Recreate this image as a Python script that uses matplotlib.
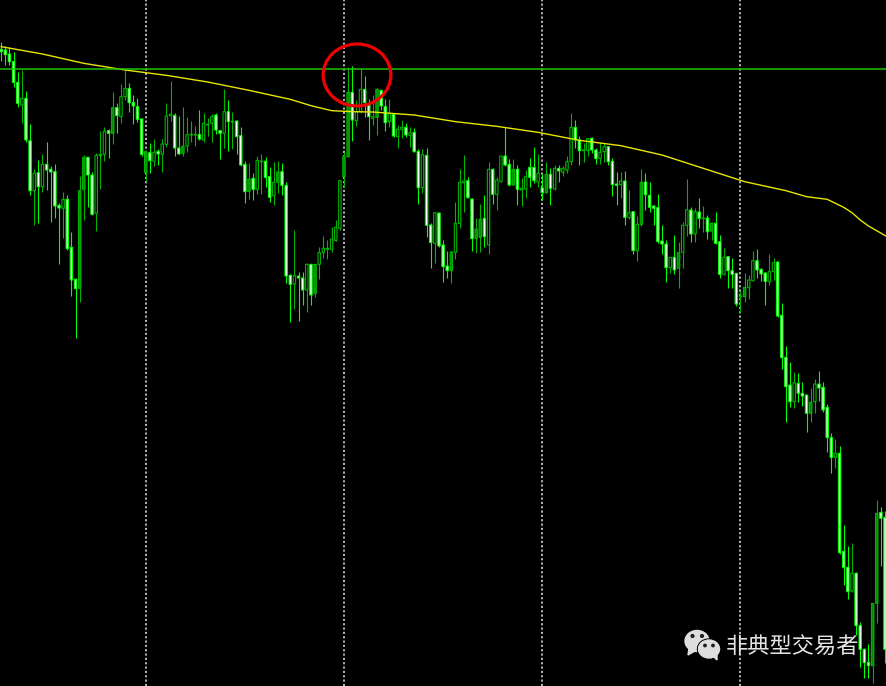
import numpy as np
import matplotlib
matplotlib.use('Agg')
import matplotlib.pyplot as plt
from matplotlib.patches import Ellipse, Polygon

# values, scale runs downward (no price axis in the picture)
highs = [125,137,142,157,217,210,273,372,508,480,462,427,498,493,610,577,585,697,835,527,
         465,470,515,460,394,380,388,276,310,252,210,248,285,295,355,452,430,418,448,418,
         310,242,340,348,322,352,363,378,331,340,354,342,338,390,267,300,335,360,382,482,
         490,518,468,462,470,502,486,483,490,547,822,690,815,
         815,790,792,793,740,707,720,680,660,540,455,202,198,300,205,227,298,285,265,270,
         297,297,340,375,360,368,380,385,448,448,445,670,638,638,720,753,753,607,507,465,
         530,595,655,612,585,485,505,530,468,380,478,478,495,535,510,475,440,462,522,487,
         505,495,495,
         497,468,338,360,408,430,413,412,445,425,428,438,475,515,517,513,570,633,648,508,
         520,545,615,582,675,720,770,705,725,665,536,620,625,595,617,645,667,635,705,745,
         768,775,818,872,820,825,753,747,805,817,762,775,785,910,1038,1087,1115,1120,1145,1185,
         1165,1138,1113,1145,
         1212,1300,1318,1338,1575,1638,1628,1715,1867,1945,1932,1808,1500,1520,1533]

tops = [148,150,162,185,247,295,295,422,520,518,493,493,508,515,616,598,598,742,838,572,
        472,472,525,466,463,394,392,323,323,290,265,265,308,320,357,455,458,457,454,432,
        348,342,346,444,439,404,403,403,404,370,373,350,345,392,335,335,364,363,407,493,
        538,535,481,483,484,530,547,516,515,556,826,827,828,
        834,793,793,793,758,745,745,717,682,542,470,277,277,335,268,268,312,350,268,271,
        320,340,343,388,382,382,398,397,454,464,466,675,638,639,735,798,756,670,547,543,
        542,597,687,658,655,508,508,540,468,468,493,508,508,565,530,502,502,520,564,523,
        523,505,505,
        505,485,382,382,420,450,416,415,450,457,440,440,484,552,543,543,638,635,673,547,
        546,586,618,623,723,732,772,772,758,676,629,630,635,636,654,654,670,670,725,772,
        770,812,820,888,862,840,782,782,808,819,815,788,786,946,1072,1155,1148,1150,1180,1185,
        1207,1152,1152,1162,
        1222,1313,1360,1360,1654,1702,1720,1720,1876,1948,1987,1810,1540,1537,1552]

bottoms = [155,164,185,247,310,315,420,572,572,560,560,510,516,618,624,625,746,840,866,865,
           568,525,643,640,467,463,400,400,347,350,290,308,318,358,463,518,482,484,462,463,
           433,347,444,462,460,438,405,405,417,420,375,370,390,400,400,365,366,410,495,575,
           574,568,568,485,532,592,587,547,556,828,853,852,834,
           870,870,885,880,793,757,748,748,722,685,530,470,360,362,335,308,350,355,352,318,
           368,365,408,410,388,405,406,455,563,563,676,728,730,738,800,812,812,757,670,548,
           593,716,716,712,710,735,583,583,545,495,555,555,568,570,567,532,542,546,578,578,
           565,567,513,
           517,510,485,420,452,452,452,450,476,476,455,485,554,556,554,652,653,752,752,673,
           584,622,625,725,732,803,803,810,805,757,676,702,702,655,656,695,693,730,823,823,
           812,823,912,890,890,863,842,810,822,844,845,815,948,1073,1160,1205,1205,1180,1188,1240,
           1240,1205,1164,1230,
           1313,1372,1372,1658,1703,1775,1773,1877,1948,1988,1997,1997,1810,1555,1948]

lows = [183,195,195,262,322,368,427,585,675,668,575,570,665,655,792,715,750,887,1015,905,
        660,622,645,693,567,482,475,433,400,368,300,335,372,365,467,542,520,498,495,517,
        440,362,468,462,467,455,425,437,420,425,407,427,402,477,443,452,447,462,497,608,
        597,600,582,582,560,605,615,580,585,850,965,928,962,
        915,935,915,890,838,775,777,755,722,690,560,472,423,378,340,350,420,375,405,330,
        393,380,410,445,415,412,440,457,612,580,712,805,788,740,845,835,850,778,683,635,
        595,752,758,757,740,762,612,630,545,498,557,555,615,618,595,562,550,560,600,580,
        615,570,547,
        527,520,495,443,495,485,468,460,492,492,485,495,588,615,593,675,658,763,783,678,
        630,635,675,728,762,845,818,822,865,805,707,727,725,685,695,718,720,732,835,825,
        863,865,918,940,905,897,842,835,842,915,855,840,952,1107,1265,1222,1225,1207,1218,1295,
        1265,1238,1203,1235,
        1355,1420,1405,1662,1755,1798,1775,1905,2000,2035,2035,2048,1870,1698,1990]

# w = down candle (white body), h = up candle (hollow), g = up candle with green body
kinds = ("wwwwwhwwhw" "hwwwwhwwwg" "gwwhhhwgwh" "hwwwwgwhwh" "hhwwghhhwh" "hhwwhwhwww"
         "gwhhwwhgww" "whw" "whwghhh" "hhhggwhhww" "hgwwhwhhwh" "wwhwwhwwwg" "hhhwwggwhw"
         "hhwwgwhhww" "hwgwhwhhhw" "whhwwhhwww" "hwhwhgwwww" "wwhwghhwhw" "hwgwwhwwwh"
         "ghhwwwhhww" "wwhwwwghww" "wwhwwwhwww" "wggww")

ma_bars = [0, 10, 20, 30, 40, 50, 60, 70, 75, 80, 85, 90, 100, 110, 120, 130, 140, 150, 160,
           170, 180, 190, 195, 200, 204, 206, 208, 210, 214.5]
ma_vals = [140, 162, 190, 210, 226, 246, 271, 298, 317, 332, 335, 336, 345, 365, 379, 397,
           421, 437, 465, 505, 545, 572, 590, 598, 622, 638, 660, 678, 710]

session_bars = [35, 83, 131, 179]
level = 207

fig = plt.figure(figsize=(8.87, 6.86), dpi=100, facecolor='black')
ax = fig.add_axes([0, 0, 1, 1], facecolor='black')
ax.set_xlim(-0.29, 214.48)
ax.set_ylim(2058, 0)
ax.axis('off')

for b in session_bars:
    ax.axvline(b, color='#d0d0d0', lw=1.2, dashes=(1.3, 1.3), zorder=1)

x = np.arange(len(highs))
styles = {'w': ('#00ff00', 'white'), 'h': ('#00b400', 'black'), 'g': ('#00b400', '#008c00')}
for i in x:
    edge, fill = styles[kinds[i]]
    ax.vlines(i, highs[i], lows[i], color=edge, lw=0.8, zorder=2)
    ax.bar(i, bottoms[i] - tops[i], bottom=tops[i], width=0.58, color=fill, edgecolor=edge,
           lw=0.8, zorder=3, snap=False)

ax.plot(ma_bars, ma_vals, color='#e6e600', lw=1.0, zorder=4)
ax.axhline(level, color='#20c000', lw=1.1, zorder=5)

ax.add_patch(Ellipse((86.15, 225), 16.4, 186, fill=False, ec='#f00000', lw=2.3, zorder=6))

# watermark in pixel coordinates
wm = fig.add_axes([0, 0, 1, 1], facecolor='none')
wm.set_xlim(0, 887)
wm.set_ylim(686, 0)
wm.axis('off')
grey = '#dedede'
wm.add_patch(Ellipse((697, 641), 24, 21, color=grey))
wm.add_patch(Polygon([(689, 648), (688, 655), (695, 651)], color=grey))
wm.add_patch(Ellipse((709, 649), 23, 20, color='black'))
wm.add_patch(Ellipse((709, 649), 21, 18, color=grey))
wm.add_patch(Polygon([(713, 656), (717, 660), (717, 654)], color=grey))
for ex, ey, r in [(692.5, 636, 1.4), (702, 636, 1.4), (705, 645.5, 1.2), (713, 645.5, 1.2)]:
    wm.add_patch(Ellipse((ex, ey), 2 * r, 2 * r, color='#202020'))
wm.text(792, 647, '非典型交易者', family=['Noto Sans CJK SC', 'DejaVu Sans'], fontsize=16,
        color='#e4e4e4', ha='center', va='center')

fig.savefig('out.png', dpi=100, facecolor='black')
